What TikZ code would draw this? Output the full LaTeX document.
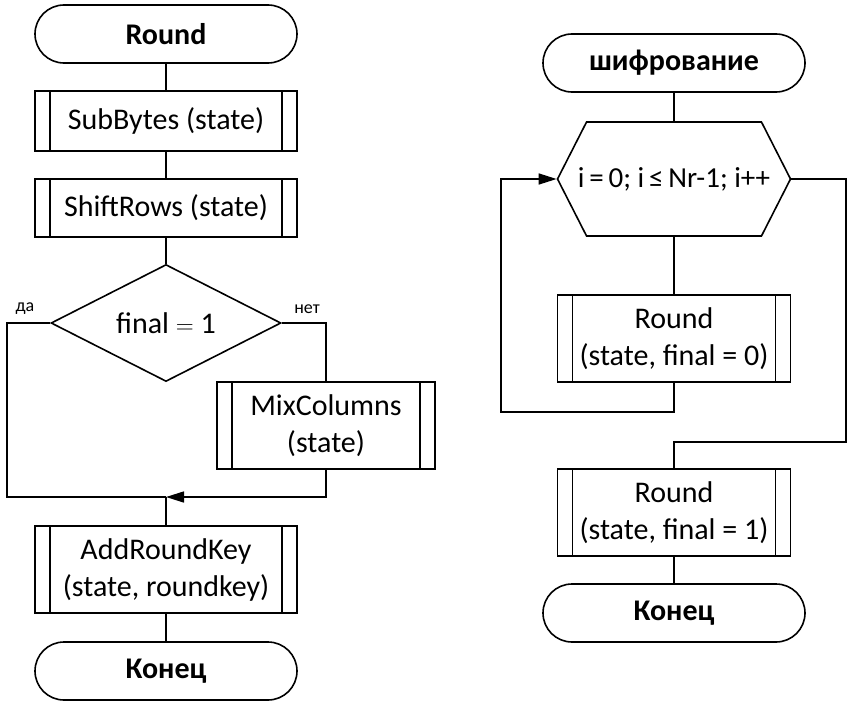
\documentclass[tikz,border=0pt]{standalone}
\usepackage{fontspec}
\setmainfont{Carlito}
\usetikzlibrary{shapes.geometric,shapes.misc,shapes.symbols,arrows.meta}

\tikzset{
  base/.style={draw, line width=1.6pt, inner sep=0pt, align=center,
    font=\fontsize{30}{37}\selectfont},
  term/.style={base, rounded rectangle, minimum width=262pt, minimum height=58pt,
    font=\fontsize{30}{37}\selectfont\bfseries},
  subproc/.style={base, rectangle, minimum height=87pt,
    path picture={
      \draw[line width=1.6pt] ([xshift=15pt]path picture bounding box.north west)
        -- ([xshift=15pt]path picture bounding box.south west);
      \draw[line width=1.6pt] ([xshift=-15pt]path picture bounding box.north east)
        -- ([xshift=-15pt]path picture bounding box.south east);}},
  decision/.style={base, diamond, aspect=2, minimum width=230pt, minimum height=117pt},
  loopbox/.style={base, signal, signal to=west and east, signal pointer angle=126,
    minimum width=233pt, minimum height=114pt},
  line/.style={line width=1.6pt},
  arr/.style={line, -{Triangle[length=18pt,width=11pt]}},
  small/.style={font=\fontsize{18}{20}\selectfont, inner sep=0pt}
}

\begin{document}
\begin{tikzpicture}[x=1pt, y=-1pt]
    \useasboundingbox (0,0) rectangle (848,701);

    % left chart: one round
    \node[term] (round) at (166,34) {Round};
    \node[subproc, minimum width=262pt, minimum height=60pt] (sub) at (166,121) {SubBytes (state)};
    \node[subproc, minimum width=262pt, minimum height=58pt] (shift) at (166,208) {ShiftRows (state)};
    \node[decision] (dia) at (166,323) {final $=$ 1};
    \node[subproc, minimum width=218pt] (mix) at (326,425.5) {MixColumns\\(state)};
    \node[subproc, minimum width=262pt] (addkey) at (166,569.5) {AddRoundKey\\(state, roundkey)};
    \node[term] (endl) at (166,671) {Конец};

    % branch points
    \coordinate (yes) at (7,323);
    \coordinate (merge) at (166,497);
    \node[small] (da) at (25,309) {да};
    \node[small] (net) at (307,309) {нет};

    \draw[line] (round) -- (sub);
    \draw[line] (sub) -- (shift);
    \draw[line] (shift) -- (dia);
    \draw[line] (dia.west) -- (yes) |- (merge);
    \draw[line] (dia.east) -| (mix.north);
    \draw[arr] (mix.south) |- (merge);
    \draw[line] (merge) -- (addkey);
    \draw[line] (addkey) -- (endl);

    % right chart: encryption
    \node[term] (enc) at (674,63) {шифрование};
    \node[loopbox] (loop) at (674,179)
      {\makebox[120pt][c]{\fontsize{29}{37}\selectfont i\,=\,0; i\,≤\,Nr-1; i++}};
    \node[subproc, minimum width=233pt] (r0) at (674,338.5) {Round\\(state, final = 0)};
    \node[subproc, minimum width=233pt] (r1) at (674,512.5) {Round\\(state, final = 1)};
    \node[term] (endr) at (674,613) {Конец};

    % loop back and exit
    \coordinate (back) at (501,412);
    \coordinate (exit) at (846,442);

    \draw[line] (enc) -- (loop);
    \draw[line] (loop) -- (r0);
    \draw[arr] (r0.south) |- (back) |- (loop.west);
    \draw[line] (loop.east) -| (exit) -| (r1.north);
    \draw[line] (r1) -- (endr);

\end{tikzpicture}
\end{document}
